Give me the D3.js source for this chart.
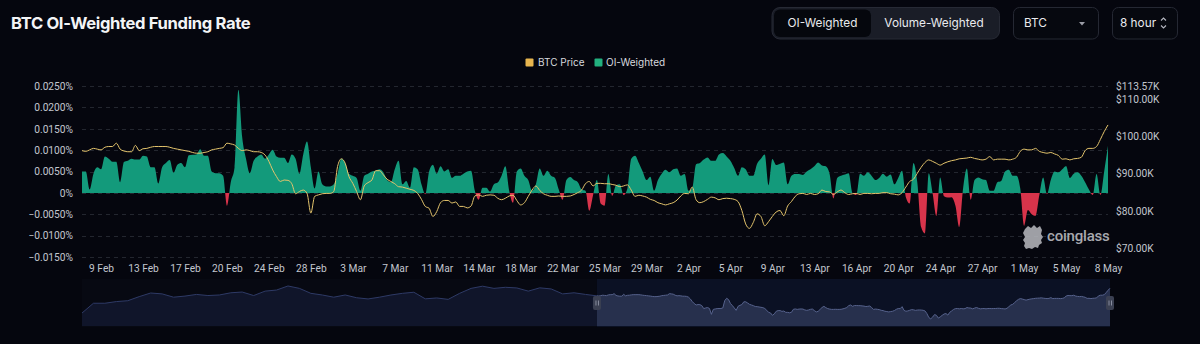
<!DOCTYPE html>
<html><head><meta charset="utf-8">
<script src="https://cdn.jsdelivr.net/npm/d3@7"></script>
<style>
html,body{margin:0;padding:0;background:#05060e;}
svg{display:block;}
</style></head><body>
<svg id="chart" width="1200" height="344"></svg>
<script>
// ---------- DATA ----------
const startTime = Date.UTC(2025, 1, 8, 0);   // first 8-hour point
const stepHours = 8;
const fundingRate = [
0.0050,0.0050,0.0008,0.0045,0.0060,0.0055,0.0085,0.0080,0.0073,0.0073,
0.0025,0.0072,0.0075,0.0080,0.0078,0.0078,0.0087,0.0085,0.0060,0.0060,
0.0022,0.0060,0.0070,0.0077,0.0047,0.0066,0.0070,0.0060,0.0088,0.0089,
0.0090,0.0102,0.0087,0.0087,0.0050,0.0046,0.0046,0.0040,-0.0030,0.0025,
0.0060,0.0241,0.0130,0.0080,0.0046,0.0075,0.0085,0.0090,0.0080,0.0090,
0.0101,0.0085,0.0082,0.0082,0.0070,0.0090,0.0080,0.0045,0.0090,0.0120,
0.0060,0.0010,0.0050,0.0020,0.0015,0.0015,0.0020,0.0045,0.0080,0.0070,
0.0045,0.0040,0.0035,0.0005,0.0040,0.0045,0.0050,0.0052,0.0055,0.0048,
0.0030,0.0025,0.0055,0.0075,0.0020,0.0028,0.0012,0.0060,0.0055,0.0020,
-0.0003,0.0050,0.0066,0.0045,0.0062,0.0050,0.0055,0.0035,0.0040,0.0040,
0.0045,0.0050,0.0052,0.0005,-0.0016,0.0012,0.0012,0.0003,0.0020,0.0024,
0.0040,0.0062,0.0005,-0.0023,0.0050,0.0057,0.0040,0.0030,0.0005,0.0020,
0.0057,0.0040,0.0052,0.0040,0.0035,0.0008,-0.0016,0.0030,0.0037,0.0030,
0.0025,0.0008,0.0005,-0.0042,-0.0005,0.0030,-0.0025,-0.0030,0.0044,-0.0007,
0.0018,0.0020,-0.0005,0.0010,0.0080,0.0087,0.0070,0.0050,0.0030,0.0038,
0.0005,0.0030,0.0045,0.0054,0.0048,0.0055,0.0057,0.0040,0.0044,0.0005,
0.0010,0.0067,0.0070,0.0078,0.0083,0.0075,0.0075,0.0090,0.0093,0.0085,
0.0075,0.0058,0.0040,0.0060,0.0055,0.0040,0.0040,0.0068,0.0080,0.0090,
0.0018,0.0079,0.0065,0.0068,0.0071,0.0020,0.0040,0.0044,0.0044,0.0042,
0.0050,0.0055,0.0062,0.0071,0.0064,0.0062,0.0045,-0.0013,0.0035,0.0040,
0.0043,0.0046,0.0000,-0.0005,0.0045,0.0040,0.0048,0.0040,0.0030,0.0035,
0.0045,0.0038,0.0043,0.0020,0.0035,0.0052,-0.0010,-0.0025,0.0070,0.0025,
-0.0080,-0.0095,0.0046,0.0000,-0.0054,0.0036,-0.0008,-0.0011,-0.0010,-0.0030,
-0.0080,0.0010,0.0057,-0.0016,0.0030,0.0036,0.0032,0.0030,0.0005,0.0005,
0.0025,0.0028,0.0050,0.0054,0.0040,0.0040,0.0010,-0.0077,-0.0040,-0.0050,
-0.0054,-0.0005,0.0036,-0.0003,0.0030,0.0050,0.0048,0.0055,0.0063,0.0035,
0.0045,0.0048,0.0040,0.0025,0.0008,-0.0005,0.0044,-0.0005,0.0050,0.0110
];
const btcPrice = [ // $K
96.2,96.0,96.4,96.8,96.6,96.4,97.1,97.3,97.3,98.2,
96.6,96.1,95.9,95.9,97.6,96.2,96.7,96.8,97.1,97.3,
97.3,97.3,97.3,97.1,96.8,96.6,96.4,96.2,96.0,95.7,
95.5,95.5,95.7,95.9,96.4,96.6,96.8,97.0,98.2,98.0,
97.7,96.8,96.2,96.4,96.2,95.9,95.9,95.7,95.0,93.3,
91.0,89.2,87.9,88.3,88.2,87.3,84.6,85.2,85.6,84.7,
79.4,83.9,84.3,84.6,84.7,84.7,85.2,91.9,94.0,92.8,
89.2,87.4,85.2,83.0,86.7,87.6,88.3,90.8,90.8,89.7,
88.5,87.9,87.3,86.5,86.4,86.1,85.8,85.5,84.7,83.1,
81.2,80.7,78.5,79.8,82.2,82.8,82.8,82.1,82.4,81.2,
81.2,80.8,81.3,84.0,84.3,83.9,84.2,84.3,84.2,83.4,
83.0,83.4,84.0,84.2,82.8,81.6,82.2,83.9,85.6,86.7,
85.5,84.6,84.2,83.9,83.9,84.0,83.9,83.9,84.0,84.4,
84.9,85.6,87.3,87.9,86.7,87.4,87.4,87.3,87.3,87.1,
86.9,86.5,86.7,87.0,85.6,83.9,84.2,84.0,83.7,83.1,
82.8,82.2,81.9,81.6,81.9,82.2,82.9,84.0,84.7,84.6,
86.4,83.0,82.2,82.5,83.1,83.7,83.5,83.0,83.3,83.4,
83.3,83.1,82.5,80.1,76.5,75.3,76.9,79.2,78.5,76.0,
77.1,78.5,79.7,80.1,78.7,81.3,82.5,83.9,84.6,84.7,
84.4,84.7,84.4,84.6,85.6,85.2,85.1,84.4,85.1,85.6,
84.9,84.4,84.6,84.7,84.4,84.7,84.7,84.6,84.7,84.7,
84.9,84.9,84.6,84.5,84.3,84.9,86.4,87.9,88.5,90.1,
91.7,93.0,93.7,93.3,92.8,92.3,92.8,93.2,93.5,93.7,
94.0,94.1,94.2,94.4,94.1,93.9,93.7,93.9,94.6,93.7,
93.9,93.9,93.9,93.7,93.9,94.4,96.0,96.6,96.4,96.4,
96.8,96.0,95.7,95.5,95.7,95.3,94.9,93.9,94.0,93.7,
94.0,94.1,94.4,96.2,96.8,96.8,97.3,99.2,101.3,103.1
];
// earlier history shown only in the zoom slider (every 2 days from 10 Nov 2024)
const historyStart = Date.UTC(2024, 10, 10);
const historyStepDays = 2;
const historyPrice = [
80.6,89.5,89.5,91.0,91.8,95.5,98.8,98.0,95.0,96.0,
97.5,96.5,97.0,99.0,99.7,96.5,100.5,101.5,105.2,103.0,
98.5,97.0,95.0,97.0,94.5,93.4,95.0,97.0,98.5,99.5,
93.5,94.3,93.0,98.5,103.0,105.0,103.0,104.0,103.4,100.5,
103.5,102.5,98.0,99.0,97.5
];
const rateTicks = [-0.015,-0.01,-0.005,0,0.005,0.01,0.015,0.02,0.025];
const priceDomain = [67.6, 113.57];
const priceTicks = [70,80,90,100,110,113.57];
const xTickFirst = 5, xTickEvery = 11;
const legendItems = [{name:"BTC Price", color:"#e7b54f"},{name:"OI-Weighted", color:"#22b07e"}];

// ---------- SETUP ----------
const svg = d3.select("#chart");
const W = 1200, H = 344;
svg.append("rect").attr("width",W).attr("height",H).attr("fill","#05060e");

const ms = stepHours*3600*1000;
const dates = fundingRate.map((d,i)=> new Date(startTime + i*ms));
const plot = {l:82, r:1108, t:86, b:257};

const x = d3.scaleUtc().domain([dates[0], dates[dates.length-1]]).range([plot.l, plot.r]);
const yR = d3.scaleLinear().domain([-0.015, 0.025]).range([plot.b, plot.t]);
const yP = d3.scaleLinear().domain(priceDomain).range([plot.b, plot.t]);

// title
svg.append("text").attr("x",11).attr("y",29)
  .attr("font-family","Inter, 'Open Sans', sans-serif").attr("font-weight",700)
  .attr("font-size",16.6).attr("letter-spacing",-0.35).attr("fill","#f3f4f6")
  .text("BTC OI-Weighted Funding Rate");

// controls
const ctl = svg.append("g").attr("font-family","Inter, 'Noto Sans', sans-serif").attr("font-size",11.8).attr("fill","#e9eaee");
ctl.append("rect").attr("x",772).attr("y",7.5).attr("width",227.5).attr("height",31.5).attr("rx",8).attr("fill","#1a1d27").attr("stroke","#272a35");
ctl.append("rect").attr("x",774).attr("y",9.5).attr("width",97).attr("height",27.5).attr("rx",6).attr("fill","#05070d");
ctl.append("text").attr("x",822.5).attr("y",27.3).attr("text-anchor","middle").text("OI-Weighted");
ctl.append("text").attr("x",934).attr("y",27.3).attr("text-anchor","middle").text("Volume-Weighted");
ctl.append("rect").attr("x",1013.5).attr("y",7.5).attr("width",85).attr("height",31.5).attr("rx",6).attr("fill","#06080f").attr("stroke","#252833");
ctl.append("text").attr("x",1024).attr("y",27.3).text("BTC");
ctl.append("path").attr("d","M1079,22 L1085,22 L1082,25.5 Z").attr("fill","#9a9ca6");
ctl.append("rect").attr("x",1112.5).attr("y",7.5).attr("width",65).attr("height",31.5).attr("rx",6).attr("fill","#06080f").attr("stroke","#252833");
ctl.append("text").attr("x",1120).attr("y",27.3).text("8 hour");
ctl.append("path").attr("d","M1161,20.5 L1163.5,18 L1166,20.5 M1161,25.5 L1163.5,28 L1166,25.5")
  .attr("fill","none").attr("stroke","#b5b7c0").attr("stroke-width",1.1);

// legend
const lg = svg.append("g").attr("font-family","Inter, 'Noto Sans', sans-serif").attr("font-size",10).attr("fill","#d7d9df");
lg.append("rect").attr("x",525.5).attr("y",58.5).attr("width",8).attr("height",8).attr("rx",1).attr("fill",legendItems[0].color);
lg.append("text").attr("x",538).attr("y",66).text(legendItems[0].name);
lg.append("rect").attr("x",594.5).attr("y",58.5).attr("width",8).attr("height",8).attr("rx",1).attr("fill",legendItems[1].color);
lg.append("text").attr("x",606).attr("y",66).text(legendItems[1].name);

// grid
svg.append("g").selectAll("line").data(rateTicks).join("line")
  .attr("x1",plot.l).attr("x2",plot.r)
  .attr("y1",d=>Math.round(yR(d))+0.5).attr("y2",d=>Math.round(yR(d))+0.5)
  .attr("stroke","#23262f").attr("stroke-dasharray","4,4");

const axisFont = sel => sel.selectAll("text").attr("font-family","Roboto, sans-serif").attr("font-size",10.2).attr("fill","#c3c6ce");

// left axis
const fmtRate = d => d===0 ? "0%" : d3.format(".4f")(d) + "%";
const axL = svg.append("g").attr("transform",`translate(${plot.l-9},0)`)
  .call(d3.axisLeft(yR).tickValues(rateTicks).tickFormat(fmtRate).tickSize(0).tickPadding(0));
axL.select(".domain").remove();
axisFont(axL);

// right axis
const fmtPrice = d => "$" + d3.format(".2f")(d) + "K";
const axR = svg.append("g").attr("transform",`translate(${plot.r+8},0)`)
  .call(d3.axisRight(yP).tickValues(priceTicks).tickFormat(fmtPrice).tickSize(0).tickPadding(0));
axR.select(".domain").remove();
axisFont(axR);

// x axis
const xTicks = dates.filter((d,i)=> i>=xTickFirst && (i-xTickFirst)%xTickEvery===0);
const axX = svg.append("g").attr("transform",`translate(0,${plot.b+8})`)
  .call(d3.axisBottom(x).tickValues(xTicks).tickFormat(d3.utcFormat("%-d %b")).tickSize(0).tickPadding(0));
axX.select(".domain").remove();
axisFont(axX);

// funding area
const defs = svg.append("defs");
const y0 = yR(0);
defs.append("clipPath").attr("id","posClip").append("rect").attr("x",plot.l-2).attr("y",0).attr("width",plot.r-plot.l+4).attr("height",y0);
defs.append("clipPath").attr("id","negClip").append("rect").attr("x",plot.l-2).attr("y",y0).attr("width",plot.r-plot.l+4).attr("height",H-y0);
const area = d3.area().x((d,i)=>x(dates[i])).y0(y0).y1(d=>yR(d)).curve(d3.curveMonotoneX);
svg.append("path").datum(fundingRate).attr("d",area).attr("fill","#139a7b").attr("clip-path","url(#posClip)");
svg.append("path").datum(fundingRate).attr("d",area).attr("fill","#d8344b").attr("clip-path","url(#negClip)");

// price line
const line = d3.line().x((d,i)=>x(dates[i])).y(d=>yP(d)).curve(d3.curveMonotoneX);
svg.append("path").datum(btcPrice).attr("d",line).attr("fill","none").attr("stroke","#e4c46c").attr("stroke-width",1);

// watermark
const wm = svg.append("g").attr("fill","#b9bac0").attr("opacity",0.85);
wm.append("path").attr("d","M1025,229 l3,-3 l3,2 l3,-3 l3,3 l3,-2 l2,4 l-1,4 l2,3 l-2,3 l1,3 l-3,2 l-1,3 l-3,-1 l-3,2 l-3,-1 l-3,1 l-2,-3 l1,-3 l-2,-3 l2,-3 l-2,-4 Z");
wm.append("text").attr("x",1047).attr("y",241).attr("font-family","Roboto, sans-serif").attr("font-weight",500)
  .attr("font-size",15).attr("letter-spacing",-0.2).attr("fill","#c4c5cb").text("coinglass");

// ---------- ZOOM SLIDER ----------
const hDates = historyPrice.map((d,i)=> new Date(historyStart + i*historyStepDays*86400000));
const sDates = hDates.concat(dates);
const sVals = historyPrice.concat(btcPrice);
const xs = d3.scaleUtc().domain([sDates[0], sDates[sDates.length-1]]).range([82, 1110]);
const ys = d3.scaleLinear().domain([68.8, 107.9]).range([326, 283]);
const selX0 = xs(dates[0]), selX1 = xs(dates[dates.length-1]);
svg.append("rect").attr("x",82).attr("y",279).attr("width",1028).attr("height",48).attr("fill","#070912");
defs.append("clipPath").attr("id","unsel").append("rect").attr("x",82).attr("y",270).attr("width",selX0-82).attr("height",70);
defs.append("clipPath").attr("id","sel").append("rect").attr("x",selX0).attr("y",270).attr("width",selX1-selX0+2).attr("height",70);
svg.append("rect").attr("x",selX0).attr("y",279).attr("width",selX1-selX0).attr("height",48).attr("fill","#0b1124");
const sArea = d3.area().x((d,i)=>xs(sDates[i])).y0(326).y1(d=>ys(d));
const sLine = d3.line().x((d,i)=>xs(sDates[i])).y(d=>ys(d));
svg.append("path").datum(sVals).attr("d",sArea).attr("fill","#10152a").attr("clip-path","url(#unsel)");
svg.append("path").datum(sVals).attr("d",sLine).attr("fill","none").attr("stroke","#2e3a66").attr("stroke-width",1).attr("clip-path","url(#unsel)");
svg.append("path").datum(sVals).attr("d",sArea).attr("fill","#27304d").attr("clip-path","url(#sel)");
svg.append("path").datum(sVals).attr("d",sLine).attr("fill","none").attr("stroke","#56628c").attr("stroke-width",1).attr("clip-path","url(#sel)");
[selX0, selX1].forEach(hx=>{
  svg.append("rect").attr("x",hx-4).attr("y",296).attr("width",8).attr("height",14).attr("rx",2).attr("fill","#3b4052");
  svg.append("path").attr("d",`M${hx-1},300.5 v5 M${hx+1.5},300.5 v5`).attr("stroke","#9aa0b2").attr("stroke-width",0.8);
});
</script>
</body></html>
